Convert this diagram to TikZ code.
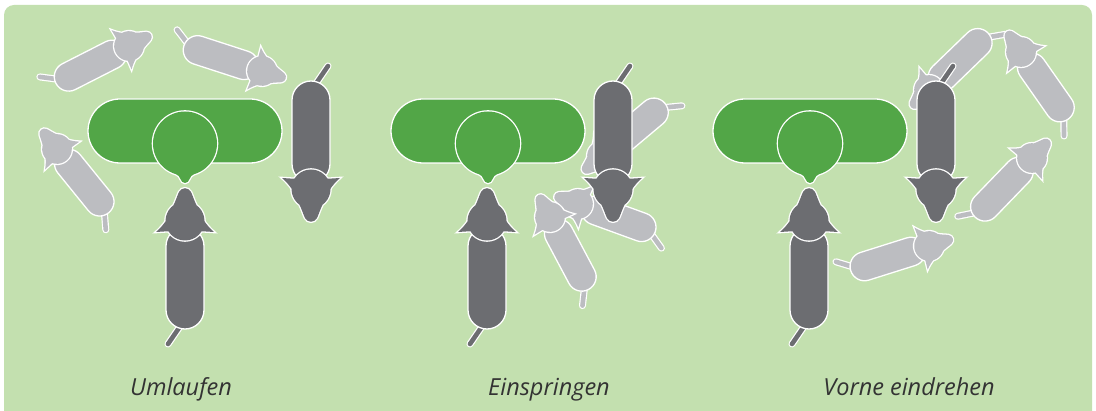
\documentclass[tikz,border=0pt]{standalone}
\usepackage{fontspec}
\setmainfont{Open Sans}
\usepackage{tikz}
\definecolor{fieldcolor}{HTML}{C3E0AF}
\definecolor{troughcolor}{HTML}{52A647}
\definecolor{cowcolor}{HTML}{6C6D71}
\definecolor{ghostcolor}{HTML}{BCBDC1}
\definecolor{labelcolor}{HTML}{333333}

% head seen from above, nose pointing up, centre of skull at origin
% (every part runs counterclockwise so the fill stays solid)
\newcommand{\headshape}{%
  (0,0) circle[radius=19.5]
  (13,13) .. controls (9,20) and (8,25) .. (6,29) .. controls (3.5,34) and (-3.5,34) .. (-6,29) .. controls (-8,25) and (-9,20) .. (-13,13) -- cycle
  (-11,16) .. controls (-15,5) and (-21,-4) .. (-29,-11) -- (-13,-10) -- cycle
  (13,-10) -- (29,-11) .. controls (21,-4) and (15,5) .. (11,16) -- cycle}
% round bowl with its drop
\newcommand{\bowlshape}{%
  (0,0) circle[radius=32]
  (-9,-30.7) .. controls (-4,-32) and (-5,-39.5) .. (0,-39.5) .. controls (5,-39.5) and (4,-32) .. (9,-30.7) -- cycle}

\tikzset{
  outline/.style={draw=white, line width=1.3pt},
  rim/.style={draw=white, line width=2.6pt},
  caption/.style={font=\fontsize{23.5pt}{28pt}\selectfont\itshape, text=labelcolor, inner sep=0pt, anchor=base},
  pics/animal/.style={code={%
    \draw[white, line width=7pt, line cap=round] (-4,-104) -- (-17,-123);%
    \draw[#1, line width=4.6pt, line cap=round] (-4,-104) -- (-17,-123);%
    \path[fill=#1, outline] (-19,-25) -- (-19,-89) arc[start angle=180, end angle=360, radius=19] -- (19,-25) arc[start angle=0, end angle=180, radius=19] -- cycle;%
    \path[rim] \headshape;%
    \path[fill=#1, nonzero rule] \headshape;%
  }},
  pics/feeder/.style={code={%
    \path[fill=troughcolor, outline, rounded corners=32pt] (-97,-32) rectangle (97,32);%
    \path[rim, shift={(0,-12.5)}] \bowlshape;%
    \path[fill=troughcolor, shift={(0,-12.5)}] \bowlshape;%
  }}
}

\begin{document}
\begin{tikzpicture}[x=1pt, y=1pt]%
\useasboundingbox (0,0) rectangle (1096,410);%
\fill[white] (0,0) rectangle (1096,410);%
\fill[fieldcolor, rounded corners=10pt] (4,-12) rectangle (1092,405);%
% Umlaufen
\pic (feedA) at (185,279) {feeder};%
\pic (ghostA1)[rotate=-63, scale=0.76] at (129,364) {animal=ghostcolor};%
\pic (ghostA2)[rotate=-108, scale=0.76] at (262,339) {animal=ghostcolor};%
\pic (ghostA3)[rotate=39, scale=0.76] at (57,261) {animal=ghostcolor};%
\pic (cowA1) at (185,189) {animal=cowcolor};%
\pic (cowA2)[rotate=180] at (311,221) {animal=cowcolor};%
\node[caption] (capA) at (181,15) {Umlaufen};%
% Einspringen
\pic (feedB) at (488,279) {feeder};%
\pic (ghostB1)[rotate=130, scale=0.76] at (602,254) {animal=ghostcolor};%
\pic (ghostB2)[rotate=70, scale=0.76] at (578,206) {animal=ghostcolor};%
\pic (ghostB3)[rotate=28, scale=0.76] at (550,193) {animal=ghostcolor};%
\pic (cowB1) at (487,189) {animal=cowcolor};%
\pic (cowB2)[rotate=180] at (613,221) {animal=cowcolor};%
\node[caption] (capB) at (549,15) {Einspringen};%
% Vorne eindrehen
\pic (feedC) at (810,279) {feeder};%
\pic (ghostC1)[rotate=134, scale=0.76] at (929,320) {animal=ghostcolor};%
\pic (ghostC2)[rotate=35, scale=0.76] at (1021,358) {animal=ghostcolor};%
\pic (ghostC3)[rotate=-44, scale=0.76] at (1032,252) {animal=ghostcolor};%
\pic (ghostC4)[rotate=-72.5, scale=0.76] at (929,164) {animal=ghostcolor};%
\pic (cowC1) at (809,189) {animal=cowcolor};%
\pic (cowC2)[rotate=180] at (936,221) {animal=cowcolor};%
\node[caption] (capC) at (909,15) {Vorne eindrehen};%
\end{tikzpicture}
\end{document}
